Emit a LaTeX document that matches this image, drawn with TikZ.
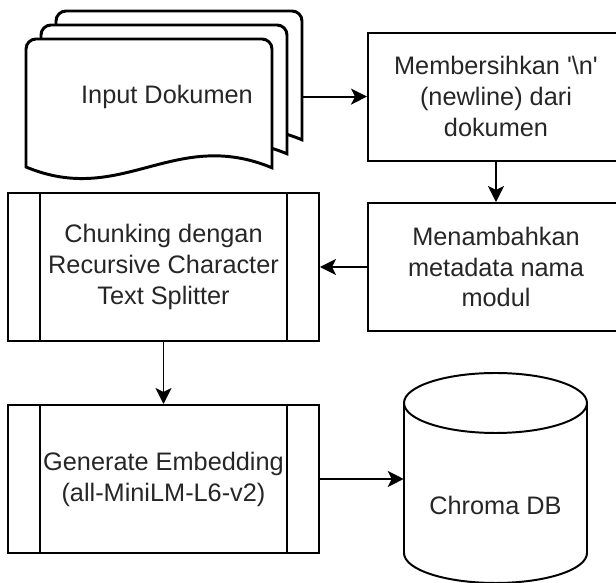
\documentclass[tikz,border=0pt]{standalone}
\usepackage{fontspec}
\setmainfont{Liberation Sans}
\usetikzlibrary{arrows.meta}

\begin{document}
\begin{tikzpicture}[
    font=\fontsize{18}{22}\selectfont,
    proc/.style={draw, line width=1.4pt, minimum width=6.4cm, minimum height=3.2cm, align=center, text=black!85},
    subproc/.style={proc, minimum width=7.775cm, minimum height=3.7cm},
    doc/.style={draw, fill=white, line width=2.1pt},
    flow/.style={-{Stealth[length=0.4cm, width=0.4cm, inset=0.1cm]}, line width=1.4pt}
  ]
  \useasboundingbox (0,0) rectangle (15.4,14.575);
  \clip (0,0) rectangle (15.4,14.575);

  % tumpukan dokumen, dari belakang ke depan
  \foreach \dx/\dy in {0.75/0.7, 0.375/0.35, 0/0}{
    \begin{scope}[shift={(0.65+\dx,13.6+\dy)}]
      \draw[doc] (0,-3.2) -- (0,-0.25) arc[start angle=180, end angle=90, radius=0.25]
        -- (5.9,0) arc[start angle=90, end angle=0, radius=0.25]
        -- (6.15,-3.22) .. controls (3.7,-2.2) and (2.4,-4.2) .. (0,-3.2) -- cycle;
    \end{scope}
  }
  \node[minimum width=6.75cm, text=black!85] (docs) at (4.175,12.16) {Input Dokumen};

  \node[proc] (clean) at (12.4,12.16) {Membersihkan \textquotesingle\textbackslash n\textquotesingle\\(newline) dari\\dokumen};
  \node[proc] (meta) at (12.4,7.9) {Menambahkan\\metadata nama\\modul};
  \node[subproc] (chunk) at (4.0875,7.9) {Chunking dengan\\Recursive Character\\Text Splitter};
  \node[subproc] (embed) at (4.0875,2.6) {Generate Embedding\\(all-MiniLM-L6-v2)};

  % garis dalam predefined process
  \foreach \n in {chunk,embed}{
    \draw[line width=1.4pt] ([xshift=0.825cm]\n.north west) -- ([xshift=0.825cm]\n.south west);
    \draw[line width=1.4pt] ([xshift=-0.825cm]\n.north east) -- ([xshift=-0.825cm]\n.south east);
  }

  % silinder database
  \draw[line width=1.4pt] (10.1,4.5) -- (10.1,0.75)
    arc[start angle=180, end angle=360, x radius=2.2875cm, y radius=0.75cm] -- (14.675,4.5);
  \draw[line width=1.4pt] (12.3875,4.5) ellipse[x radius=2.2875cm, y radius=0.75cm];
  \node[minimum width=4.575cm, text=black!85] (db) at (12.3875,1.94) {Chroma DB};

  \draw[flow] (docs.east |- clean.west) -- (clean.west);
  \draw[flow] (clean.south) -- (meta.north);
  \draw[flow] (meta.west) -- (chunk.east);
  \draw[flow] (chunk.south) -- (embed.north);
  \draw[flow] (embed.east) -- (embed.east -| db.west);
\end{tikzpicture}
\end{document}
